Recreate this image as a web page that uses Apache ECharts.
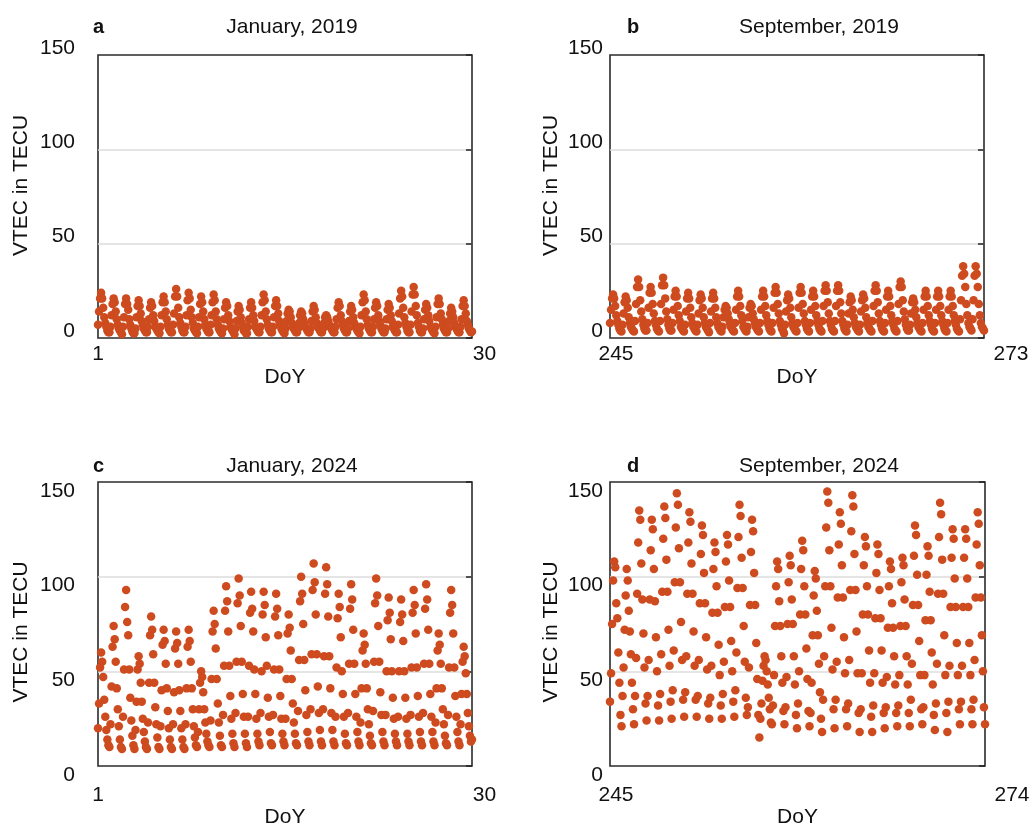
<!DOCTYPE html>
<html>
<head>
<meta charset="utf-8">
<script src="https://cdn.jsdelivr.net/npm/echarts@6/dist/echarts.min.js"></script>
<style>
html,body{margin:0;padding:0;background:#fff;}
#chart{width:1033px;height:831px;}
</style>
</head>
<body>
<div id="chart"></div>
<script>
// ---- DATA (2-hourly VTEC samples, one row per day) ----
const doyJan2019 = [1, 30];
const doySep2019 = [245, 273];
const doyJan2024 = [1, 30];
const doySep2024 = [245, 274];
const yTicks = [0, 50, 100, 150];
const panelTags = ['a', 'b', 'c', 'd'];
const panelTitles = ['January, 2019', 'September, 2019', 'January, 2024', 'September, 2024'];

const vtecJan2019 = [
[7,14,21,24,21,16,11,8,6,4,3,3],
[6,12,18,21,19,14,10,7,5,4,3,2],
[6,11,18,21,18,15,10,7,5,3.5,2.5,2.5],
[5,11,17,20,17,13,9,7,5,4,3,3],
[6,10,16,19,17,12,9,6,5,4,3,2.5],
[6,12,19,22,19,14,10,7,5,4,3,3],
[7,13,22,26,22,16,11,8,6,4,3,3],
[6,12,20,24,21,15,11,8,5,4,3,2.5],
[6,11,18,22,19,14,10,7,5,4,3,3],
[7,12,19,23,20,14,10,7,5,4,3,2.5],
[5,10,16,19,17,12,9,6,5,4,3,2],
[5,9,14,17,15,11,8,6,4,3.5,2.5,2.5],
[6,10,16,19,16,12,9,6,5,4,3,3],
[6,12,19,23,20,14,10,7,5,4,3,3],
[6,11,17,20,17,13,9,7,5,4,3,2.5],
[5,9,13,15,14,11,8,6,5,4,3,3],
[5,8,12,14,13,10,8,6,5,4,3,3],
[5,9,14,17,15,11,8,6,5,4,3,3],
[5,8,11,12,11,9,7,6,5,4,3,3],
[6,10,16,19,17,12,9,7,5,4,3,3],
[5,9,14,17,15,11,8,6,5,4,3,2.5],
[6,12,19,23,20,14,10,7,5,4,3,3],
[6,10,16,19,17,12,9,7,5,4,3,3],
[5,10,15,18,16,12,9,6,5,4,3,3],
[7,13,21,25,22,16,11,8,6,4,3,3],
[7,14,23,27,23,17,12,8,6,4,3,3],
[5,10,15,18,16,12,9,6,5,4,3,2.5],
[6,11,18,21,18,13,10,7,5,4,3,3],
[5,9,13,16,14,11,8,6,5,4,3,3],
[6,10,17,20,17,13,9,7,5,4,3,3.4]
];

const vtecSep2019 = [
[8,15,21,23,21,17,12,9,7,5,4,3.5],
[7,13,19,22,20,16,11,8,6,5,4,3.5],
[9,18,27,31,27,20,14,10,7,5,4,4],
[8,16,24,27,24,18,13,9,7,5,4,3.5],
[9,18,28,32,28,21,14,10,7,5,4,4],
[8,15,22,25,22,17,12,9,6,5,4,3.5],
[7,14,21,24,21,16,11,8,6,5,4,3.5],
[7,13,20,23,21,16,11,8,6,5,4,3],
[8,14,21,24,21,16,11,8,6,5,4,3.5],
[6,11,15,17,16,13,10,8,6,5,4,3.5],
[8,15,22,25,22,17,12,9,6,5,4,3.5],
[6,11,16,18,17,13,10,8,6,5,4,3.5],
[8,15,22,25,22,17,12,9,7,5,4,3.5],
[8,16,24,27,24,18,13,9,7,5,4,2.5],
[7,14,20,23,21,16,11,8,6,5,4,3.5],
[8,16,24,27,24,18,13,9,7,5,4,3.5],
[8,15,22,25,22,17,12,9,7,5,4,3.5],
[9,17,25,28,25,19,13,9,7,5,4,3.5],
[9,17,25,28,25,19,13,9,7,5,4,3.5],
[7,13,19,22,20,15,11,8,6,5,4,3.5],
[7,14,20,23,21,16,11,8,6,5,4,3.5],
[9,17,25,28,25,19,13,9,7,5,4,3.5],
[8,15,22,25,22,17,12,9,7,5,4,3.5],
[9,18,27,30,27,20,14,10,7,5,4,4],
[7,13,19,21,19,15,11,8,6,5,4,3.5],
[8,15,22,25,22,17,12,9,7,5,4,3.5],
[8,15,22,25,22,17,12,9,7,5,4,3.5],
[8,15,22,25,22,17,12,9,7,5,4,3.5],
[10,20,33,38,34,27,18,12,8,6,5,4],
[10,20,33,38,34,27,18,12,8,6,5,4]
];

const vtecJan2024 = [
[20,33,52,60,55,47,35,26,19,14,11,10],
[22,42,63,74,67,55,41,30,21,14,10,9],
[26,51,84,93,76,69,51,36,24,16,11,9],
[19,34,51,58,54,44,34,25,18,13,10,9],
[23,44,69,79,72,59,44,31,22,15,10,9],
[21,40,64,72,66,54,41,29,20,14,10,9],
[22,39,62,71,65,54,40,29,20,14,10,9],
[22,41,63,72,66,55,41,30,21,15,11,10],
[18,30,44,50,47,39,30,23,17,13,11,10],
[24,46,71,82,75,62,46,33,23,16,11,10],
[27,53,82,95,87,71,53,37,25,17,12,10],
[28,55,86,99,90,74,55,38,26,17,12,10],
[26,53,81,92,83,71,51,38,25,17,13,11],
[28,50,80,92,85,68,53,36,26,18,12,11],
[27,51,79,91,83,69,51,37,25,17,13,11],
[25,46,70,80,73,61,46,33,23,17,12,11],
[29,56,87,100,91,75,56,40,27,18,13,11],
[30,59,93,107,97,80,59,42,28,19,13,11],
[30,58,91,105,96,79,58,41,28,19,13,11],
[26,52,78,91,84,68,50,38,26,17,12,11],
[28,54,83,96,88,72,54,38,26,18,13,11],
[23,41,61,70,64,54,41,30,22,16,12,11],
[29,55,86,99,90,74,55,39,27,18,13,11],
[27,50,77,89,81,67,50,36,25,17,13,11],
[26,50,76,88,80,66,50,36,25,17,13,11],
[27,52,81,93,85,70,52,37,26,18,13,11],
[28,54,83,96,88,72,54,38,26,18,13,11],
[23,41,61,70,64,54,41,30,22,16,12,11],
[27,52,81,93,85,70,52,37,26,18,13,11],
[22,38,55,63,58,49,38,28,21,16,13,14]
];

const vtecSep2024 = [
[34,49,75,98,108,105,86,78,60,44,27,21],
[37,52,72,90,104,98,82,71,59,44,30,22],
[37,57,91,118,135,130,107,88,70,52,33,24],
[37,56,88,114,130,125,104,87,68,50,32,24],
[38,59,92,120,137,131,109,92,72,53,34,25],
[40,61,97,126,144,138,115,97,76,56,35,26],
[39,58,91,118,134,129,107,91,71,53,35,26],
[37,56,86,112,127,122,102,86,68,51,33,25],
[36,53,81,104,118,113,95,81,64,48,32,25],
[38,55,84,108,122,117,98,84,66,50,34,26],
[40,60,94,121,138,132,110,94,74,55,36,27],
[31,52,85,113,130,124,102,85,65,46,27,15],
[25,33,45,53,58,56,50,43,36,30,23,22],
[32,48,74,95,108,104,87,74,58,44,29,22],
[31,47,75,97,111,106,88,75,58,43,27,20],
[33,50,80,104,119,114,95,80,62,46,29,21],
[28,44,69,90,103,99,82,69,54,39,25,18],
[35,58,95,126,145,139,114,95,73,51,30,20],
[35,55,89,117,134,128,106,89,68,49,30,21],
[33,56,93,124,143,137,112,93,71,49,28,18],
[30,49,80,106,121,116,95,80,61,44,26,18],
[32,49,78,102,117,112,93,78,61,44,28,20],
[31,47,73,95,108,104,86,73,58,43,28,21],
[32,48,74,97,110,106,88,74,58,43,28,21],
[35,54,85,111,127,122,101,85,66,48,30,22],
[31,48,77,101,116,111,92,77,60,43,27,19],
[33,54,91,121,139,133,109,91,69,48,28,18],
[34,53,84,110,125,120,99,84,65,48,30,22],
[34,53,84,110,125,120,99,84,65,48,30,22],
[35,56,89,117,134,128,106,89,69,50,31,22]
];

// ---- LAYOUT ----
const FONT = "'Liberation Sans', Arial, Helvetica, sans-serif";
const DOT = '#CD4B1E';
const layout = [
  {left:98,  top:55,  width:374, height:283, yMargin:23, yShift:-7, xMargin:6,  xNameGap:29, yNameGap:66, yNameShift:-11, titleTop:12, tagLeft:88,  titleX:287, maxPad:25},
  {left:610, top:55,  width:374, height:283, yMargin:7,  yShift:-7, xMargin:6,  xNameGap:29, yNameGap:48, yNameShift:-11, titleTop:12, tagLeft:622, titleX:814, maxPad:54},
  {left:98,  top:482, width:374, height:284, yMargin:23, yShift:9,  xMargin:19, xNameGap:41, yNameGap:66, yNameShift:8,   titleTop:451, tagLeft:88, titleX:287, maxPad:25},
  {left:610, top:482, width:375, height:284, yMargin:7,  yShift:9,  xMargin:19, xNameGap:41, yNameGap:48, yNameShift:8,   titleTop:451, tagLeft:622, titleX:814, maxPad:54}
];
const ranges = [doyJan2019, doySep2019, doyJan2024, doySep2024];
const datasets = [vtecJan2019, vtecSep2019, vtecJan2024, vtecSep2024];

function toPoints(days, range) {
  const flat = days.flat();
  const step = (range[1] - range[0]) / (flat.length - 1);
  return flat.map((v, i) => [range[0] + i * step, v]);
}

const grid = [], xAxis = [], yAxis = [], series = [], title = [];
layout.forEach((L, i) => {
  const r = ranges[i];
  const ypad = L.yShift < 0 ? [0,0,-2*L.yShift,0] : [2*L.yShift,0,0,0];
  grid.push({left:L.left, top:L.top, width:L.width, height:L.height, show:true,
    borderColor:'#2b2b2b', borderWidth:1.6, backgroundColor:'transparent', containLabel:false});
  xAxis.push({type:'value', gridIndex:i, min:r[0], max:r[1],
    name:'DoY', nameLocation:'middle', nameGap:L.xNameGap,
    nameTextStyle:{fontFamily:FONT, fontSize:21, color:'#111'},
    axisLine:{show:false}, axisTick:{show:false}, splitLine:{show:false},
    axisLabel:{customValues:r, margin:L.xMargin, fontFamily:FONT, fontSize:21, color:'#111',
      formatter:(v)=> v === r[1] ? '{mx|' + v + '}' : '{mn|' + v + '}',
      rich:{mx:{fontFamily:FONT, fontSize:21, color:'#111', padding:[0,0,0,L.maxPad]},
            mn:{fontFamily:FONT, fontSize:21, color:'#111', padding:[0,0,0,i%2===1?12:0]}}}
  });
  yAxis.push({type:'value', gridIndex:i, min:yTicks[0], max:yTicks[yTicks.length-1], interval:50,
    name:'VTEC in TECU', nameLocation:'middle', nameGap:L.yNameGap, nameRotate:90,
    nameTextStyle:{fontFamily:FONT, fontSize:21, color:'#111',
      padding: L.yNameShift < 0 ? [0,0,0,-2*L.yNameShift] : [0,2*L.yNameShift,0,0]},
    axisLine:{show:false}, axisTick:{show:false},
    splitLine:{show:true, lineStyle:{color:['rgba(0,0,0,0)','#dcdcdc','#dcdcdc','rgba(0,0,0,0)'], width:1.5}},
    axisLabel:{margin:L.yMargin, fontFamily:FONT, fontSize:21, color:'#111',
      formatter:(v)=> '{v|' + v + '}',
      rich:{v:{fontFamily:FONT, fontSize:21, color:'#111', padding:ypad}}}
  });
  yAxis.push({type:'value', gridIndex:i, position:'right', min:0, max:150, interval:50,
    axisLine:{show:false}, axisLabel:{show:false}, splitLine:{show:false},
    axisTick:{show:true, inside:true, length:6, lineStyle:{color:'#222', width:1.5}}
  });
  series.push({type:'scatter', xAxisIndex:i, yAxisIndex:2*i, data:toPoints(datasets[i], r),
    symbolSize:8.5, itemStyle:{color:DOT, opacity:1}, clip:false, silent:true});
  title.push({text:panelTitles[i], left:L.titleX, top:L.titleTop, textAlign:'center',
    textStyle:{fontFamily:FONT, fontSize:21, fontWeight:'normal', color:'#111'}});
  title.push({text:panelTags[i], left:L.tagLeft, top:L.titleTop,
    textStyle:{fontFamily:FONT, fontSize:20, fontWeight:'bold', color:'#111'}});
});

const chart = echarts.init(document.getElementById('chart'), null, {renderer:'canvas'});
chart.setOption({animation:false, backgroundColor:'#fff', title, grid, xAxis, yAxis, series});
</script>
</body>
</html>
